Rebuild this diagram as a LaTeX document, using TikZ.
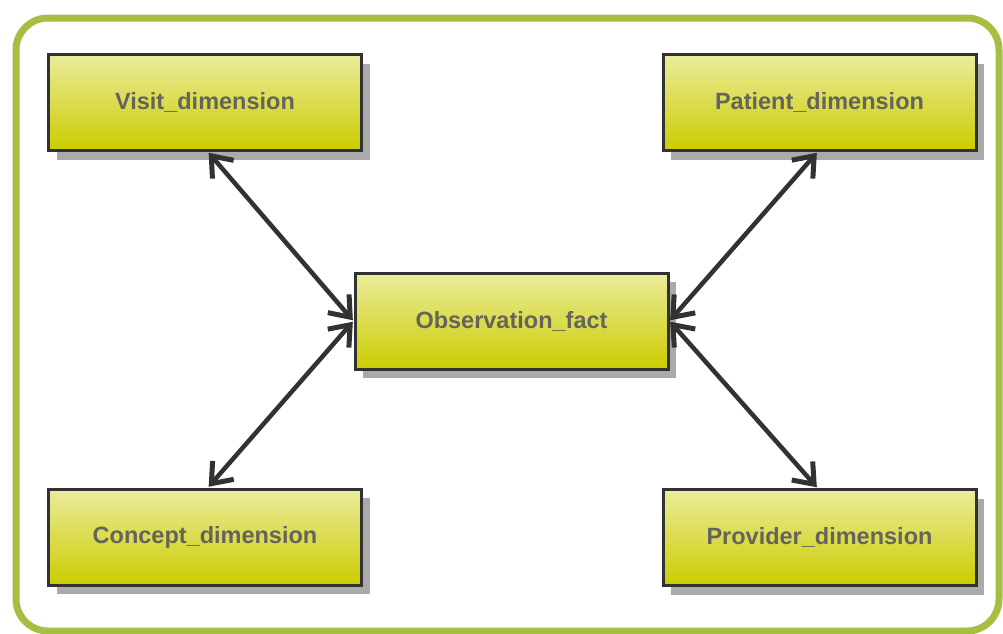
\documentclass[tikz,border=0pt]{standalone}
\usepackage{fontspec}
\setmainfont{Liberation Sans}
\usetikzlibrary{arrows.meta,shadows}
\definecolor{frame}{RGB}{166,190,66}
\definecolor{boxtop}{RGB}{234,236,156}
\definecolor{boxbot}{RGB}{204,204,0}
\definecolor{label}{RGB}{100,100,92}
\definecolor{edge}{RGB}{50,50,50}
\definecolor{shade}{RGB}{170,170,170}
\tikzset{
  table/.style={draw=edge, line width=3pt, top color=boxtop, bottom color=boxbot,
    minimum width=313pt, minimum height=96pt, inner sep=0pt,
    font=\fontsize{23.5}{26}\selectfont\bfseries, text=label,
    drop shadow={shadow xshift=8pt, shadow yshift=-9pt, fill=shade, opacity=1}},
  barb/.tip={Straight Barb[length=18pt,width=28pt,line width=5pt]},
  link/.style={draw=edge, line width=4.5pt, {barb}-{barb},
    shorten <=1pt, shorten >=1pt}
}
\begin{document}
\begin{tikzpicture}[x=1pt,y=-1pt]
\useasboundingbox (0,0) rectangle (1003,633);
\fill[white] (0,0) rectangle (1003,633);
% outer frame
\draw[frame, line width=7pt, rounded corners=32pt] (16,18) rectangle (999,631);
% tables
\node[table] (visit)    at (205,102.5) {Visit\_dimension};
\node[table] (patient)  at (819.5,102.5) {Patient\_dimension};
\node[table] (obs)      at (511.5,321) {Observation\_fact};
\node[table] (concept)  at (205,537) {Concept\_dimension};
\node[table] (provider) at (819.5,537.5) {Provider\_dimension};
% relations
\draw[link] ([xshift=3pt]visit.south) -- (obs.west);
\draw[link] ([xshift=-2pt]patient.south) -- (obs.east);
\draw[link] ([xshift=3pt]concept.north) -- (obs.west);
\draw[link] ([xshift=-2pt]provider.north) -- (obs.east);
\end{tikzpicture}
\end{document}
